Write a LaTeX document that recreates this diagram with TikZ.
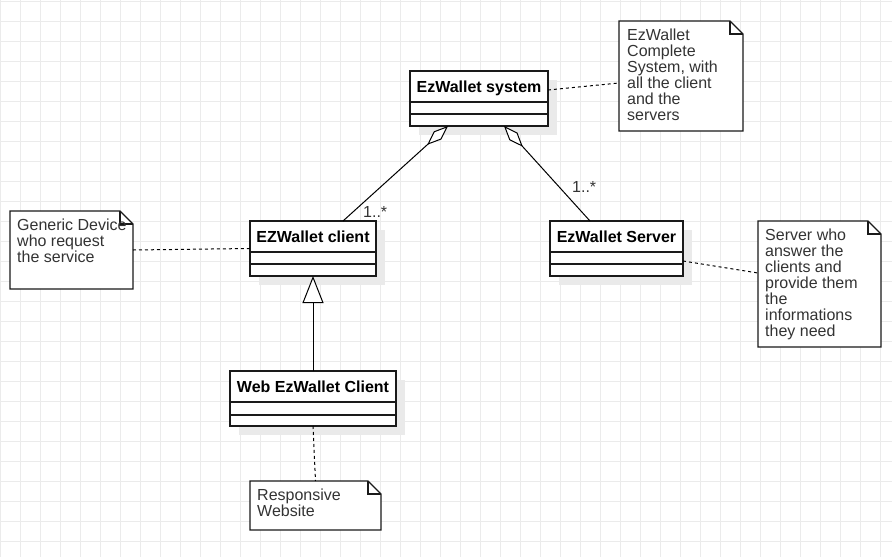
\documentclass[tikz,border=0pt]{standalone}
\usepackage{fontspec}
\setmainfont{Liberation Sans}
\usetikzlibrary{arrows.meta,calc}
\definecolor{gridc}{HTML}{EBEBEB}
\definecolor{shadowc}{HTML}{EAEAEA}
\definecolor{inkc}{HTML}{1A1A1A}
\definecolor{txtc}{HTML}{333333}
\tikzset{
  clsbox/.style={draw=inkc, line width=1.4pt, fill=white, inner sep=0pt, outer sep=0pt, anchor=north west},
  clsname/.style={font=\fontsize{16}{16}\selectfont\bfseries, text=black, anchor=base, inner sep=0pt},
  compline/.style={draw=inkc, line width=1.1pt},
  shade/.style={fill=shadowc},
  noteanchor/.style={inner sep=0pt, outer sep=0pt, anchor=north west},
  noteline/.style={draw=inkc, line width=1.2pt, fill=white, line join=miter},
  foldline/.style={draw=inkc, line width=1.2pt},
  notetext/.style={font=\fontsize{16}{16}\selectfont, text=txtc, align=left, anchor=north west, inner sep=0pt},
  multlabel/.style={font=\fontsize{16}{16}\selectfont, text=txtc, anchor=base west, inner sep=0pt},
  assoc/.style={draw=black, line width=1pt},
  dashlink/.style={draw=black, line width=1pt, dash pattern=on 3pt off 3pt},
}
\begin{document}
\begin{tikzpicture}[x=1pt,y=-1pt]
\useasboundingbox (0,0) rectangle (892,557);
\fill[white] (0,0) rectangle (892,557);
% grid
\foreach \gx in {0,20,...,880} {\draw[gridc, line width=1pt] (\gx+0.5,0) -- (\gx+0.5,557);}
\foreach \gy in {0,20,...,540} {\draw[gridc, line width=1pt] (0,\gy+1) -- (892,\gy+1);}

% ---------- class boxes ----------
% EzWallet system
\fill[shade] (419,80) rectangle +(138,55);
\node[clsbox, minimum width=138pt, minimum height=55pt] (sys) at (410,71) {};
\node[clsname] (sysname) at (479,92) {EzWallet system};
\draw[compline] ([yshift=-31pt]sys.north west) -- ([yshift=-31pt]sys.north east);
\draw[compline] ([yshift=-43pt]sys.north west) -- ([yshift=-43pt]sys.north east);

% EZWallet client
\fill[shade] (259,230) rectangle +(126,55);
\node[clsbox, minimum width=126pt, minimum height=55pt] (cli) at (250,221) {};
\node[clsname] (cliname) at (313,242) {EZWallet client};
\draw[compline] ([yshift=-31pt]cli.north west) -- ([yshift=-31pt]cli.north east);
\draw[compline] ([yshift=-43pt]cli.north west) -- ([yshift=-43pt]cli.north east);

% EzWallet Server
\fill[shade] (559,230) rectangle +(133,55);
\node[clsbox, minimum width=133pt, minimum height=55pt] (srv) at (550,221) {};
\node[clsname] (srvname) at (616.5,242) {EzWallet Server};
\draw[compline] ([yshift=-31pt]srv.north west) -- ([yshift=-31pt]srv.north east);
\draw[compline] ([yshift=-43pt]srv.north west) -- ([yshift=-43pt]srv.north east);

% Web EzWallet Client
\fill[shade] (239,380) rectangle +(166,55);
\node[clsbox, minimum width=166pt, minimum height=55pt] (web) at (230,371) {};
\node[clsname] (webname) at (313,392) {Web EzWallet Client};
\draw[compline] ([yshift=-31pt]web.north west) -- ([yshift=-31pt]web.north east);
\draw[compline] ([yshift=-44pt]web.north west) -- ([yshift=-44pt]web.north east);

% ---------- notes ----------
% note: system
\node[noteanchor, minimum width=124pt, minimum height=110pt] (nsys) at (619,21) {};
\draw[noteline] (nsys.north west) -- ([xshift=-13pt]nsys.north east) -- ([yshift=-13pt]nsys.north east) -- (nsys.south east) -- (nsys.south west) -- cycle;
\draw[foldline] ([xshift=-13pt]nsys.north east) -- ([xshift=-13pt,yshift=-13pt]nsys.north east) -- ([yshift=-13pt]nsys.north east);
\node[notetext] (tsys) at (627,28.5) {EzWallet\\Complete\\System, with\\all the client\\and the\\servers};

% note: generic device
\node[noteanchor, minimum width=123pt, minimum height=78pt] (ngen) at (10,211) {};
\draw[noteline] (ngen.north west) -- ([xshift=-13pt]ngen.north east) -- ([yshift=-13pt]ngen.north east) -- (ngen.south east) -- (ngen.south west) -- cycle;
\draw[foldline] ([xshift=-13pt]ngen.north east) -- ([xshift=-13pt,yshift=-13pt]ngen.north east) -- ([yshift=-13pt]ngen.north east);
\node[notetext] (tgen) at (17,218.5) {Generic Device\\who request\\the service};

% note: responsive website
\node[noteanchor, minimum width=131pt, minimum height=49pt] (nresp) at (250,481) {};
\draw[noteline] (nresp.north west) -- ([xshift=-13pt]nresp.north east) -- ([yshift=-13pt]nresp.north east) -- (nresp.south east) -- (nresp.south west) -- cycle;
\draw[foldline] ([xshift=-13pt]nresp.north east) -- ([xshift=-13pt,yshift=-13pt]nresp.north east) -- ([yshift=-13pt]nresp.north east);
\node[notetext] (tresp) at (257,488.5) {Responsive\\Website};

% note: server
\node[noteanchor, minimum width=123pt, minimum height=126pt] (nsrv) at (758,221) {};
\draw[noteline] (nsrv.north west) -- ([xshift=-13pt]nsrv.north east) -- ([yshift=-13pt]nsrv.north east) -- (nsrv.south east) -- (nsrv.south west) -- cycle;
\draw[foldline] ([xshift=-13pt]nsrv.north east) -- ([xshift=-13pt,yshift=-13pt]nsrv.north east) -- ([yshift=-13pt]nsrv.north east);
\node[notetext] (tsrv) at (765,228.5) {Server who\\answer the\\clients and\\provide them\\the\\informations\\they need};

% ---------- connectors ----------
\draw[assoc, {Diamond[fill=white,length=28pt,width=11pt]}-] ([xshift=-31pt]sys.south) -- ([xshift=30pt]cli.north);
\draw[assoc, {Diamond[fill=white,length=28pt,width=11pt]}-] ([xshift=25pt]sys.south) -- ([xshift=-26.5pt]srv.north);
\node[multlabel] (mcli) at (363,217) {1..*};
\node[multlabel] (msrv) at (572,192) {1..*};

\draw[assoc, -{Triangle[fill=white,length=27pt,width=21pt]}] (web.north) -- (cli.south);

\draw[dashlink] ([yshift=8.5pt]sys.east) -- ([yshift=-7pt]nsys.west);
\draw[dashlink] (ngen.east) -- (cli.west);
\draw[dashlink] (web.south) -- (nresp.north);
\draw[dashlink] ([yshift=-12.5pt]srv.east) -- ([yshift=11pt]nsrv.west);
\end{tikzpicture}
\end{document}
